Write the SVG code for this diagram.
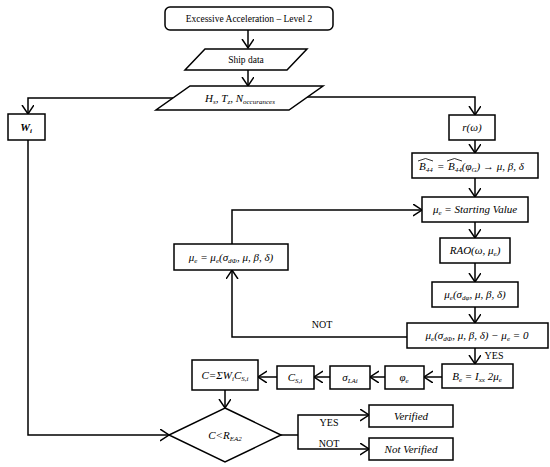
<svg xmlns="http://www.w3.org/2000/svg" width="550" height="467" viewBox="0 0 550 467">
<defs>
<style>
.bx{fill:#fff;stroke:#000;stroke-width:1.5}
.ln{fill:none;stroke:#000;stroke-width:1.5}
.ar{fill:none;stroke:#000;stroke-width:1.5;marker-end:url(#ah)}
.t{font-family:"Liberation Serif","DejaVu Serif",serif;font-size:9.5px;fill:#000;text-anchor:middle}
.m{font-family:"Liberation Serif","DejaVu Serif",serif;font-size:11px;font-style:italic;fill:#000;text-anchor:middle}
.ms{font-family:"Liberation Serif","DejaVu Serif",serif;font-size:11px;font-style:italic;fill:#000;text-anchor:start}
.lb{font-family:"Liberation Serif","DejaVu Serif",serif;font-size:10px;fill:#000;text-anchor:middle}
.hat{fill:none;stroke:#000;stroke-width:0.8}
</style>
<marker id="ah" markerUnits="userSpaceOnUse" markerWidth="12" markerHeight="14" refX="9" refY="6" orient="auto">
<path d="M0,0 L9,6 L0,12" fill="none" stroke="#000" stroke-width="1.5"/>
</marker>
</defs>
<rect width="550" height="467" fill="#fff"/>

<g id="connectors">
<line class="ar" x1="248" y1="30" x2="248" y2="48"/>
<line class="ar" x1="248" y1="70" x2="248" y2="86"/>
<polyline class="ar" points="173,98 28,98 28,114"/>
<polyline class="ar" points="307,97 475,97 475,115"/>
<line class="ar" x1="475" y1="140" x2="475" y2="153"/>
<line class="ar" x1="475" y1="178" x2="475" y2="197"/>
<line class="ar" x1="475" y1="222" x2="475" y2="238"/>
<line class="ar" x1="475" y1="263" x2="475" y2="282"/>
<line class="ar" x1="475" y1="307" x2="475" y2="323"/>
<line class="ar" x1="475" y1="348" x2="475" y2="364"/>
<line class="ar" x1="442" y1="377" x2="424" y2="377"/>
<line class="ar" x1="385" y1="377" x2="370" y2="377"/>
<line class="ar" x1="330" y1="377" x2="314" y2="377"/>
<line class="ar" x1="277" y1="377" x2="258" y2="377"/>
<line class="ar" x1="225" y1="390" x2="225" y2="408"/>
<polyline class="ar" points="407,337 232,337 232,270"/>
<polyline class="ar" points="232,244 232,210 422,210"/>
<polyline class="ar" points="28,140 28,435 169,435"/>
<line class="ln" x1="281" y1="435" x2="298" y2="435"/>
<polyline class="ar" points="298,435 298,415 369,415"/>
<polyline class="ar" points="298,435 298,449 369,449"/>
<text class="lb" x="322" y="328">NOT</text>
<text class="lb" x="494" y="359">YES</text>
<text class="lb" x="329" y="426">YES</text>
<text class="lb" x="329" y="447">NOT</text>
</g>

<g id="start">
<rect class="bx" x="165" y="7" width="168" height="23" rx="5"/>
<text class="t" x="249" y="22">Excessive Acceleration – Level 2</text>
</g>
<g id="ship">
<polygon class="bx" points="205,49 307,49 287,70 185,70"/>
<text class="t" x="246" y="63">Ship data</text>
</g>
<g id="sea">
<polygon class="bx" points="190,86 323,86 289,110 156,110"/>
<text class="m" x="240" y="102">H<tspan font-size="7" dy="2">s</tspan><tspan dy="-2">, T</tspan><tspan font-size="7" dy="2">z</tspan><tspan dy="-2">, N</tspan><tspan font-size="7" dy="2">occurances</tspan></text>
</g>
<g id="wi">
<rect class="bx" x="8" y="114" width="37" height="26"/>
<text class="m" x="26" y="131" font-weight="bold">W<tspan font-size="7" dy="2">i</tspan></text>
</g>
<g id="r">
<rect class="bx" x="449" y="115" width="46" height="25"/>
<text class="m" x="472" y="131">r(ω)</text>
</g>
<g id="b44">
<rect class="bx" x="412" y="153" width="126" height="25"/>
<polyline class="hat" points="418,161 425.5,158.5 433,161"/>
<polyline class="hat" points="447,161 454.5,158.5 462,161"/>
<text class="ms" x="419" y="170">B<tspan font-size="7" dy="2">44</tspan></text>
<text class="ms" x="437" y="170">=</text>
<text class="ms" x="448" y="170">B<tspan font-size="7" dy="2">44</tspan><tspan dy="-2">(φ</tspan><tspan font-size="7" dy="2">G</tspan><tspan dy="-2">) → μ, β, δ</tspan></text>
</g>
<g id="start-value">
<rect class="bx" x="422" y="197" width="106" height="25"/>
<text class="m" x="475" y="213">μ<tspan font-size="7" dy="2">e</tspan><tspan dy="-2"> = Starting Value</tspan></text>
</g>
<g id="rao">
<rect class="bx" x="440" y="238" width="70" height="25"/>
<text class="m" x="475" y="254">RAO(ω, μ<tspan font-size="7" dy="2">e</tspan><tspan dy="-2">)</tspan></text>
</g>
<g id="mu-sigma">
<rect class="bx" x="432" y="282" width="86" height="25"/>
<text class="m" x="475" y="298">μ<tspan font-size="7" dy="2">e</tspan><tspan dy="-2">(σ</tspan><tspan font-size="7" dy="2">dφ</tspan><tspan dy="-2">, μ, β, δ)</tspan></text>
</g>
<g id="check">
<rect class="bx" x="407" y="323" width="141" height="25"/>
<text class="m" x="477" y="339">μ<tspan font-size="7" dy="2">e</tspan><tspan dy="-2">(σ</tspan><tspan font-size="7" dy="2">dΦ</tspan><tspan dy="-2">, μ, β, δ) − μ</tspan><tspan font-size="7" dy="2">e</tspan><tspan dy="-2"> = 0</tspan></text>
</g>
<g id="update">
<rect class="bx" x="174" y="244" width="114" height="26"/>
<text class="m" x="231" y="261">μ<tspan font-size="7" dy="2">e</tspan><tspan dy="-2"> = μ</tspan><tspan font-size="7" dy="2">e</tspan><tspan dy="-2">(σ</tspan><tspan font-size="7" dy="2">dΦ</tspan><tspan dy="-2">, μ, β, δ)</tspan></text>
</g>
<g id="be">
<rect class="bx" x="442" y="364" width="71" height="24"/>
<text class="m" x="477" y="380">B<tspan font-size="7" dy="2">e</tspan><tspan dy="-2"> = I</tspan><tspan font-size="7" dy="2">xx</tspan><tspan dy="-2"> 2μ</tspan><tspan font-size="7" dy="2">e</tspan></text>
</g>
<g id="phi">
<rect class="bx" x="385" y="366" width="39" height="23"/>
<text class="m" x="404" y="381">φ<tspan font-size="7" dy="2">e</tspan></text>
</g>
<g id="sigma">
<rect class="bx" x="330" y="366" width="40" height="23"/>
<text class="m" x="350" y="381">σ<tspan font-size="7" dy="2">LAi</tspan></text>
</g>
<g id="csi">
<rect class="bx" x="277" y="366" width="37" height="23"/>
<text class="m" x="295" y="381">C<tspan font-size="7" dy="2">S,i</tspan></text>
</g>
<g id="sum">
<rect class="bx" x="192" y="360" width="66" height="30"/>
<text class="m" x="225" y="379">C=ΣW<tspan font-size="7" dy="2">i</tspan><tspan dy="-2">C</tspan><tspan font-size="7" dy="2">S,i</tspan></text>
</g>
<g id="decision">
<polygon class="bx" points="225,408 281,435 225,462 169,435"/>
<text class="m" x="225" y="439">C&lt;R<tspan font-size="7" dy="2">EA2</tspan></text>
</g>
<g id="verified">
<rect class="bx" x="369" y="405" width="84" height="22"/>
<text class="m" x="411" y="420">Verified</text>
</g>
<g id="not-verified">
<rect class="bx" x="369" y="438" width="84" height="22"/>
<text class="m" x="411" y="453">Not Verified</text>
</g>
</svg>
